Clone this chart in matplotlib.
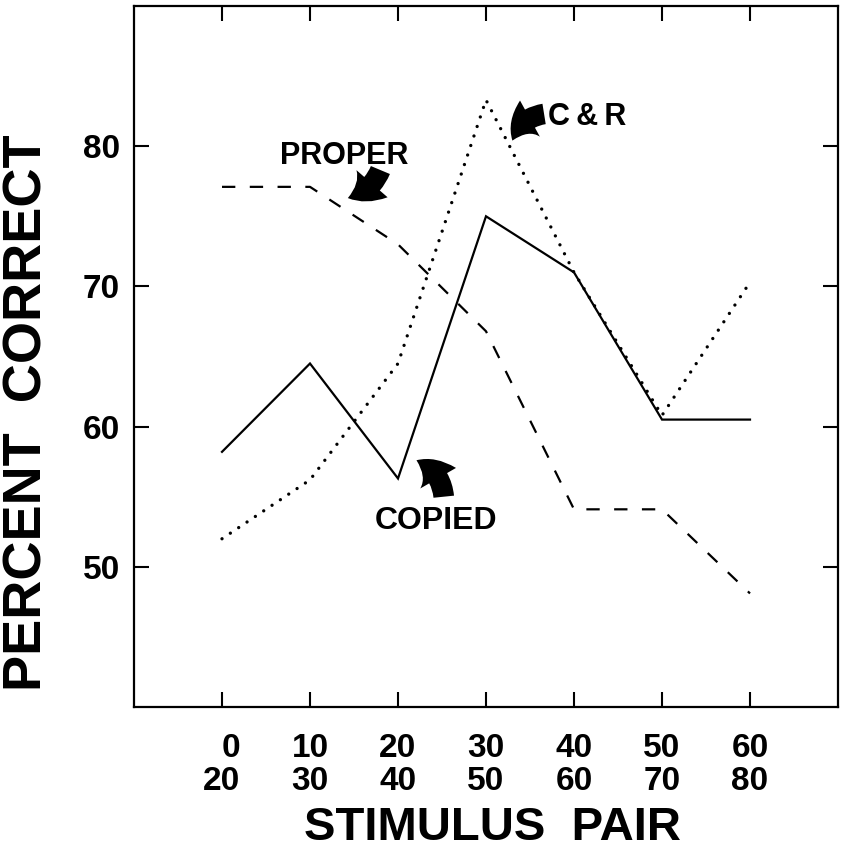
import matplotlib
matplotlib.use('Agg')
import matplotlib.pyplot as plt
from matplotlib.patches import FancyArrowPatch

positions = [0, 1, 2, 3, 4, 5, 6]
pair_low = ['0', '10', '20', '30', '40', '50', '60']
pair_high = ['20', '30', '40', '50', '60', '70', '80']
copied = [58.2, 64.5, 56.3, 75.0, 71.0, 60.5, 60.5]
c_and_r = [52.0, 56.2, 64.5, 83.3, 71.0, 60.8, 70.3]
proper = [77.1, 77.1, 73.0, 66.8, 54.1, 54.1, 48.1]
y_ticks = [50, 60, 70, 80]

plt.rcParams['font.family'] = ['Liberation Sans', 'DejaVu Sans']
plt.rcParams['font.weight'] = 'bold'

fig = plt.figure(figsize=(8.43, 8.5), dpi=100)
ax = fig.add_axes([134/843, 1-707/850, (838-134)/843, (707-6)/850])

ax.plot(positions, copied, color='black', lw=1.6, solid_joinstyle='miter')
ax.plot(positions, c_and_r, color='black', lw=2.4, linestyle=(0, (0.01, 3.0)),
        dash_capstyle='round')
ax.plot(positions, proper, color='black', lw=1.6, linestyle=(0, (6.0, 6.5)))

ax.set_xlim(-1, 7)
ax.set_ylim(40, 90)
ax.set_xticks(positions)
ax.set_xticklabels([f'{a}\n{b}' for a, b in zip(pair_low, pair_high)])
ax.set_yticks(y_ticks)
ax.tick_params(direction='in', length=11, width=1.5, top=True, right=True,
               labelsize=24, colors='black')
ax.tick_params(axis='x', pad=19)
ax.tick_params(axis='y', pad=10)
for t in ax.get_xticklabels():
    t.set_multialignment('right')
    t.set_linespacing(1.05)
    t.set_fontweight('bold')
for t in ax.get_yticklabels():
    t.set_fontweight('bold')
for sp in ax.spines.values():
    sp.set_linewidth(1.6)

fig.text(28/843, 1-413/850, 'PERCENT  CORRECT', rotation=90, ha='center',
         va='center', fontsize=39, fontweight='bold')
fig.text(492/843, 1-840/850, 'STIMULUS  PAIR', ha='center', va='baseline',
         fontsize=34, fontweight='bold')

# annotations
ax.text(1.39, 79.3, 'PROPER', ha='center', va='center', fontsize=22, fontweight='bold')
ax.text(4.15, 82.1, 'C\u2009&\u2009R', ha='center', va='center', fontsize=22, fontweight='bold')
ax.text(2.43, 53.3, 'COPIED', ha='center', va='center', fontsize=23, fontweight='bold')


def arrow(tail, tip, rad):
    p = FancyArrowPatch(tail, tip,
                        arrowstyle='simple,head_length=0.75,head_width=1.1,tail_width=0.55',
                        connectionstyle=f'arc3,rad={rad}', mutation_scale=27,
                        color='black', lw=0, shrinkA=0, shrinkB=0)
    ax.add_patch(p)


arrow((1.80, 78.3), (1.43, 76.3), -0.25)
arrow((3.66, 82.3), (3.30, 80.4), 0.3)
arrow((2.52, 55.0), (2.21, 57.6), 0.3)

fig.savefig('out.png', dpi=100)
